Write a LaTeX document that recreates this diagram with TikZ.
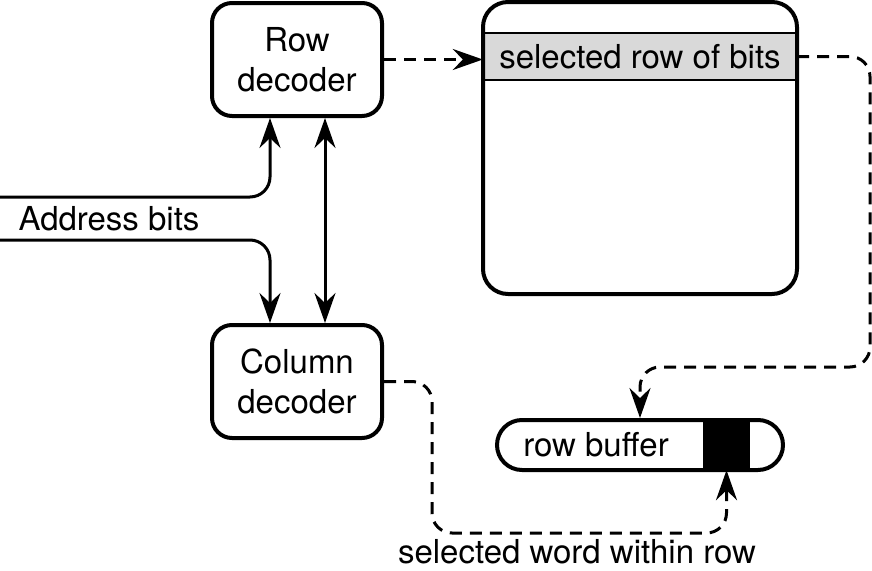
\documentclass[tikz,border=0pt]{standalone}
\usepackage{fontspec}
\setmainfont{TeX Gyre Heros}
\usetikzlibrary{arrows.meta}
\definecolor{row fill}{RGB}{217,217,217}

\begin{document}
\begin{tikzpicture}[
	x=1pt, y=-1pt,
	font=\fontsize{33}{40}\selectfont,
	box/.style={draw, line width=4pt, rounded corners=20pt, align=center,
		minimum width=170pt, minimum height=113pt},
	wire/.style={line width=3pt, rounded corners=20pt},
	dashwire/.style={wire, dash pattern=on 12pt off 8pt},
	tip/.style={-{Stealth[length=30pt,width=21pt,inset=10pt]}},
	twotip/.style={{Stealth[length=30pt,width=21pt,inset=10pt]}-{Stealth[length=30pt,width=21pt,inset=10pt]}}]

\useasboundingbox (0,0) rectangle (872,570);

% Decoders
\node (rowdec) at (297,59.5) [box] {Row\\decoder};
\node (coldec) at (297,381.5) [box] {Column\\decoder};

% Memory array
\node (selrow) at (640,56.5) [fill=row fill, minimum width=314pt, minimum height=47pt,
	inner sep=0pt] {selected row of bits};
\draw [line width=2pt] (selrow.north west) -- (selrow.north east);
\draw [line width=2pt] (selrow.south west) -- (selrow.south east);
\node (mem) at (640,148) [draw, line width=4pt, rounded corners=25pt,
	minimum width=314pt, minimum height=292pt] {};

% Row buffer
\node (word) at (726.5,445) [fill=black, minimum width=47pt, minimum height=50pt] {};
\node (rowbuf) at (640,445) [draw, line width=4pt, rounded corners=25pt,
	minimum width=286pt, minimum height=50pt] {};
\node (buflabel) at (596,445) {row buffer};

% Address bits
\coordinate (addr1) at (0,197);
\coordinate (addr2) at (0,240);
\node (addr) at (109,230) [anchor=base] {Address bits};
\draw [wire, tip] (addr1) -| ([xshift=-27pt]rowdec.south);
\draw [wire, tip] (addr2) -| ([xshift=-27pt]coldec.north);
\draw [wire, twotip] ([xshift=28pt]rowdec.south) -- ([xshift=28pt]coldec.north);

% Selection paths
\draw [dashwire, tip] (rowdec.east) -- (rowdec.east -| selrow.west);
\draw [dashwire, tip] (selrow.east) -- (870,56.5) -- (870,367) -- (640,367) -- (rowbuf.north);
\draw [dashwire, tip] (coldec.east) -- (432,381.5) -- (432,533) -- (726.5,533) -- (word.south);
\node (wordlabel) at (577,563) [anchor=base] {selected word within row};

\end{tikzpicture}
\end{document}
